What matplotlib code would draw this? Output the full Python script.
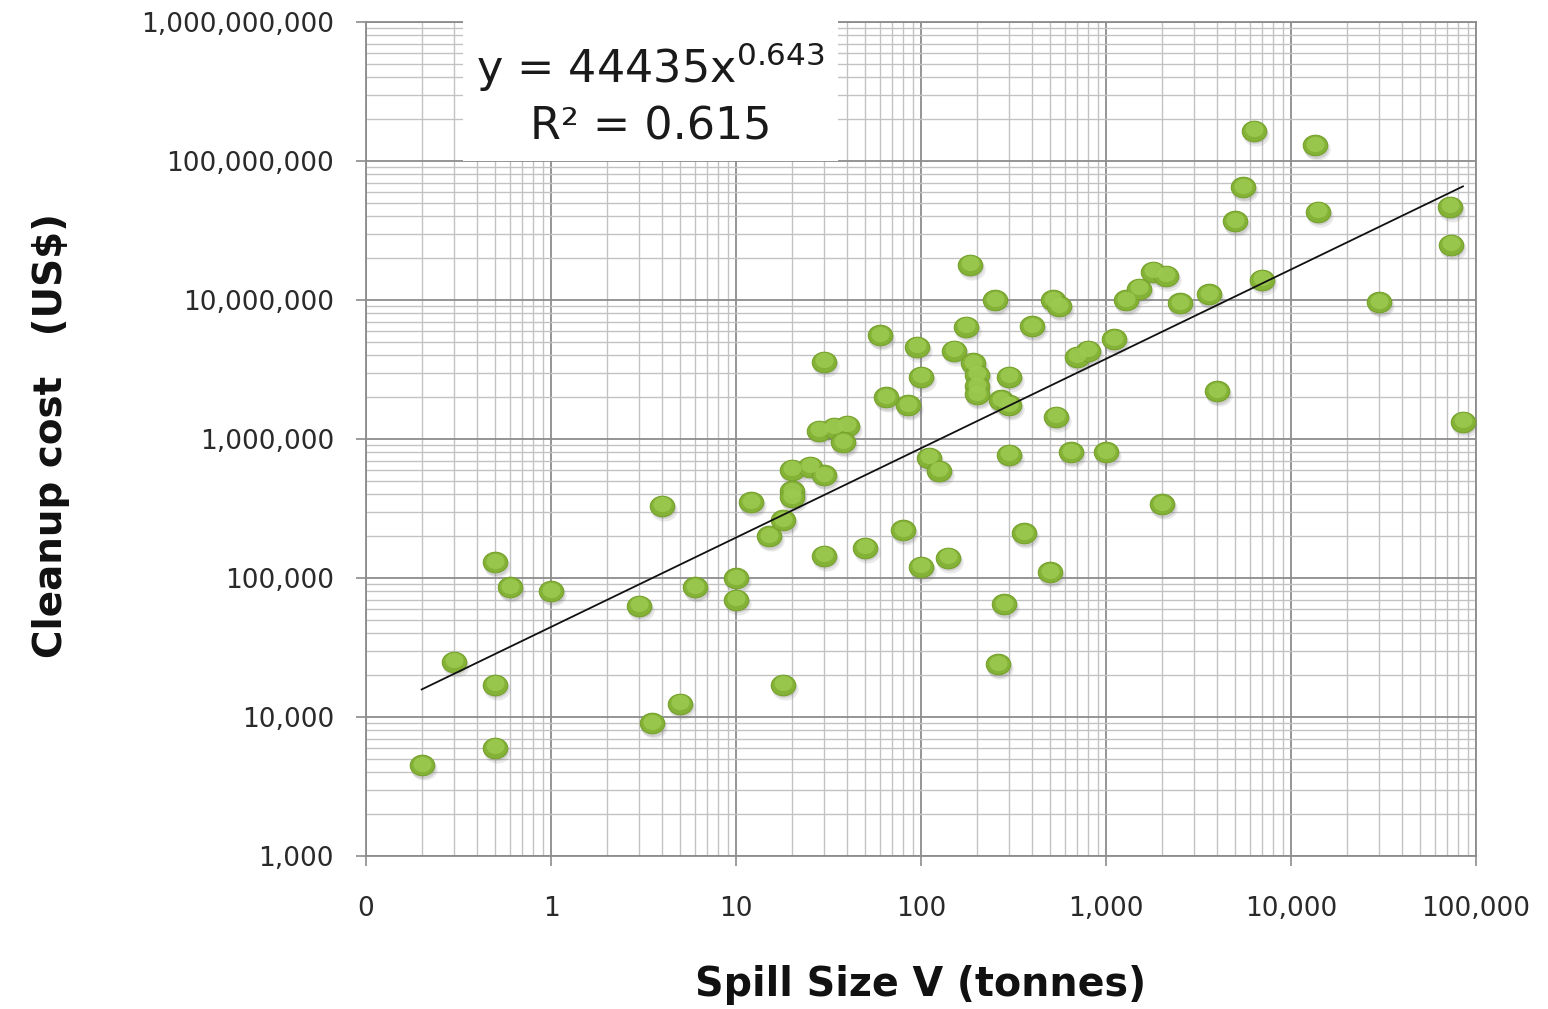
import numpy as np
import matplotlib
matplotlib.use('Agg')
import matplotlib.pyplot as plt
from matplotlib.path import Path
from matplotlib.markers import MarkerStyle
from matplotlib.transforms import Affine2D, ScaledTranslation
from matplotlib.ticker import FixedLocator, FixedFormatter, LogLocator, NullFormatter
import matplotlib.patches as mpatches
from matplotlib import font_manager

# ---------------- data ----------------
spill_tonnes = [0.2, 0.3, 0.5, 0.5, 0.5, 0.6, 1, 3, 3.5, 4, 5, 6, 10, 10, 12, 15, 18, 18,
                20, 20, 20, 25, 30, 28, 34, 40, 38, 30, 30, 50, 60, 65, 80, 85, 95, 100,
                100, 110, 125, 140, 150, 175, 185, 190, 200, 200, 200, 250, 260, 270, 280,
                300, 300, 300, 360, 400, 500, 520, 540, 560, 650, 700, 800, 1000, 1100,
                1280, 1500, 1800, 2000, 2100, 2500, 3600, 4000, 5000, 5500, 6300, 7000,
                13500, 14000, 30000, 72000, 73000, 85000]
cleanup_cost_usd = [4500, 25000, 130000, 17000, 6000, 86000, 80000, 63000, 9000, 330000,
                    12500, 86000, 100000, 70000, 350000, 200000, 260000, 17000,
                    600000, 420000, 380000, 630000, 550000, 1.15e6, 1.2e6, 1.25e6, 950000,
                    3.6e6, 145000, 165000, 5.6e6, 2.0e6, 220000, 1.75e6, 4.6e6, 2.8e6,
                    120000, 730000, 590000, 140000, 4.3e6, 6.4e6, 1.8e7, 3.5e6, 2.9e6,
                    2.4e6, 2.1e6, 1.0e7, 24000, 1.9e6, 65000,
                    1.75e6, 2.8e6, 770000, 210000, 6.5e6, 110000, 1.0e7, 1.45e6, 9.0e6,
                    800000, 3.9e6, 4.3e6, 800000, 5.2e6,
                    1.0e7, 1.2e7, 1.6e7, 340000, 1.5e7, 9.5e6, 1.1e7, 2.2e6, 3.7e7, 6.5e7,
                    1.65e8, 1.4e7, 1.3e8, 4.3e7, 9.6e6, 4.7e7, 2.5e7, 1.33e6]

fit_coef = 44435
fit_exp = 0.643
r_squared = 0.615

x_ticks = [0.1, 1, 10, 100, 1000, 10000, 100000]
x_tick_labels = ['0', '1', '10', '100', '1,000', '10,000', '100,000']
y_ticks = [1e3, 1e4, 1e5, 1e6, 1e7, 1e8, 1e9]
y_tick_labels = ['1,000', '10,000', '100,000', '1,000,000', '10,000,000',
                 '100,000,000', '1,000,000,000']

x_title = 'Spill Size V (tonnes)'
y_title = 'Cleanup cost   (US$)'

# ---------------- fonts ----------------
avail = {f.name for f in font_manager.fontManager.ttflist}
cond_font = 'Liberation Sans Narrow' if 'Liberation Sans Narrow' in avail else 'DejaVu Sans'
plt.rcParams['font.family'] = ['DejaVu Sans']

# ---------------- figure ----------------
fig = plt.figure(figsize=(15.48, 10.09), dpi=100)
ax = fig.add_axes([366/1548, 1 - 856/1009, (1476-366)/1548, (856-22)/1009])
ax.set_xscale('log')
ax.set_yscale('log')
ax.set_xlim(0.1, 100000)
ax.set_ylim(1e3, 1e9)

# grid
ax.xaxis.set_major_locator(FixedLocator(x_ticks))
ax.xaxis.set_major_formatter(FixedFormatter(x_tick_labels))
ax.yaxis.set_major_locator(FixedLocator(y_ticks))
ax.yaxis.set_major_formatter(FixedFormatter(y_tick_labels))
ax.xaxis.set_minor_locator(LogLocator(base=10, subs=np.arange(2, 10)))
ax.yaxis.set_minor_locator(LogLocator(base=10, subs=np.arange(2, 10)))
ax.xaxis.set_minor_formatter(NullFormatter())
ax.yaxis.set_minor_formatter(NullFormatter())
ax.grid(True, which='major', color='#8c8c8c', linewidth=1.3, zorder=0)
ax.grid(True, which='minor', color='#c2c2c2', linewidth=1.0, zorder=0)
ax.set_axisbelow(True)

for s in ax.spines.values():
    s.set_color('#8c8c8c')
    s.set_linewidth(1.3)

ax.tick_params(which='major', direction='out', length=7, width=1.2, color='#8c8c8c',
               labelsize=19, labelcolor='#2a2a2a')
ax.tick_params(axis='y', which='major', pad=16)
ax.tick_params(axis='x', which='major', pad=22)
ax.tick_params(which='minor', length=0)

# ---------------- markers ----------------
ell = Path.unit_circle().transformed(Affine2D().scale(1.0, 0.84))
mk = MarkerStyle(ell)
x = np.array(spill_tonnes)
y = np.array(cleanup_cost_usd)

sh1 = ax.transData + ScaledTranslation(2/100, -4/100, fig.dpi_scale_trans)
sh2 = ax.transData + ScaledTranslation(1/100, -2.5/100, fig.dpi_scale_trans)
ax.scatter(x, y, s=360, marker=mk, color='#7a7a7a', alpha=0.16, linewidths=0,
           transform=sh1, zorder=3)
ax.scatter(x, y, s=320, marker=mk, color='#6a6a6a', alpha=0.2, linewidths=0,
           transform=sh2, zorder=3)
ax.scatter(x, y, s=310, marker=mk, color='#84b236', edgecolors='#76a22c',
           linewidths=0.8, zorder=4)
hl = ax.transData + ScaledTranslation(0, 1.5/100, fig.dpi_scale_trans)
ax.scatter(x, y, s=170, marker=mk, color='#9cc94f', linewidths=0, alpha=0.85,
           transform=hl, zorder=5)

# ---------------- trend line ----------------
xf = np.logspace(np.log10(x.min()), np.log10(x.max()), 200)
ax.plot(xf, fit_coef * xf ** fit_exp, color='#111111', linewidth=1.3, zorder=6)

# ---------------- equation box ----------------
box = mpatches.Rectangle((0.0874, 0.8335), 0.3378, 0.172, transform=ax.transAxes,
                         facecolor='white', edgecolor='none', zorder=7, clip_on=False)
ax.add_patch(box)
ax.text(0.2561, 0.946, r'y = %dx$^{\mathregular{%s}}$' % (fit_coef, f'{fit_exp:.3f}'),
        transform=ax.transAxes, ha='center', va='center', fontsize=32,
        color='#1a1a1a', zorder=8)
ax.text(0.2561, 0.874, 'R² = %s' % f'{r_squared:.3f}',
        transform=ax.transAxes, ha='center', va='center', fontsize=32,
        color='#1a1a1a', zorder=8)

# ---------------- axis titles ----------------
ax.set_xlabel(x_title, fontsize=28.5, fontweight='bold', family=[cond_font, 'DejaVu Sans'],
              color='#111111')
ax.xaxis.label.set_va('center')
ax.xaxis.set_label_coords(0.5, (856 - 985) / 834)
ax.set_ylabel(y_title, fontsize=28, fontweight='bold', family=[cond_font, 'DejaVu Sans'],
              color='#111111')
ax.yaxis.label.set_va('center')
ax.yaxis.set_label_coords((51 - 366) / 1110, (856 - 436) / 834)

fig.savefig('out.png', dpi=100, facecolor='white')
